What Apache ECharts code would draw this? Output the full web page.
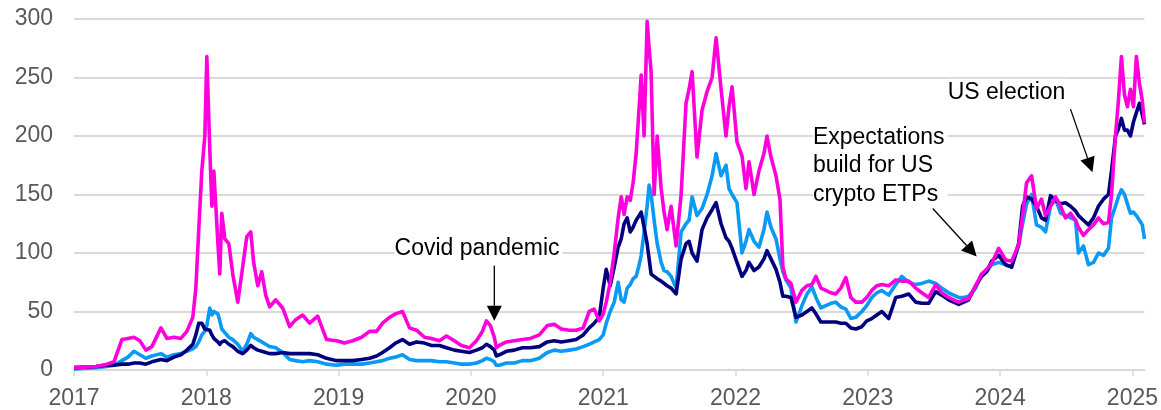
<!DOCTYPE html>
<html>
<head>
<meta charset="utf-8">
<script src="https://cdn.jsdelivr.net/npm/echarts@6/dist/echarts.min.js"></script>
<style>
  html, body { margin: 0; padding: 0; background: #fff; }
  #crypto-chart { width: 1161px; height: 410px; }
</style>
</head>
<body>
<div id="crypto-chart"></div>
<script>
// x positions as decimal years (Jan 1 = whole number)
const years = [
  2017.000, 2017.166, 2017.249, 2017.302, 2017.362, 2017.408, 2017.453, 2017.498, 2017.543, 2017.589,
  2017.657, 2017.702, 2017.755, 2017.808, 2017.853, 2017.898, 2017.921, 2017.943, 2017.966, 2017.989,
  2018.004, 2018.026, 2018.042, 2018.057, 2018.087, 2018.102, 2018.117, 2018.140, 2018.170, 2018.200,
  2018.238, 2018.275, 2018.306, 2018.336, 2018.358, 2018.389, 2018.419, 2018.449, 2018.479, 2018.525,
  2018.577, 2018.630, 2018.675, 2018.728, 2018.781, 2018.842, 2018.909, 2018.985, 2019.045, 2019.106,
  2019.174, 2019.234, 2019.287, 2019.332, 2019.385, 2019.430, 2019.483, 2019.536, 2019.589, 2019.649,
  2019.702, 2019.762, 2019.815, 2019.875, 2019.928, 2019.989, 2020.042, 2020.087, 2020.117, 2020.147,
  2020.177, 2020.192, 2020.215, 2020.268, 2020.328, 2020.389, 2020.449, 2020.517, 2020.577, 2020.630,
  2020.683, 2020.743, 2020.796, 2020.849, 2020.894, 2020.932, 2020.970, 2021.000, 2021.023, 2021.053,
  2021.083, 2021.113, 2021.136, 2021.158, 2021.181, 2021.204, 2021.226, 2021.249, 2021.272, 2021.287,
  2021.309, 2021.332, 2021.347, 2021.362, 2021.385, 2021.408, 2021.438, 2021.460, 2021.483, 2021.513,
  2021.551, 2021.589, 2021.626, 2021.649, 2021.672, 2021.709, 2021.747, 2021.785, 2021.823, 2021.853,
  2021.891, 2021.928, 2021.951, 2021.974, 2022.011, 2022.049, 2022.079, 2022.102, 2022.140, 2022.177,
  2022.215, 2022.238, 2022.268, 2022.306, 2022.336, 2022.358, 2022.381, 2022.419, 2022.457, 2022.502,
  2022.540, 2022.577, 2022.608, 2022.645, 2022.683, 2022.721, 2022.758, 2022.796, 2022.834, 2022.872,
  2022.909, 2022.955, 2022.992, 2023.030, 2023.068, 2023.106, 2023.158, 2023.211, 2023.257, 2023.309,
  2023.362, 2023.408, 2023.460, 2023.513, 2023.558, 2023.611, 2023.649, 2023.687, 2023.725, 2023.762,
  2023.815, 2023.860, 2023.898, 2023.936, 2023.989, 2024.042, 2024.087, 2024.140, 2024.170, 2024.200,
  2024.238, 2024.275, 2024.313, 2024.343, 2024.381, 2024.419, 2024.457, 2024.494, 2024.532, 2024.570,
  2024.592, 2024.630, 2024.668, 2024.706, 2024.743, 2024.781, 2024.819, 2024.842, 2024.872, 2024.894,
  2024.917, 2024.940, 2024.962, 2024.985, 2025.008, 2025.030, 2025.053, 2025.075, 2025.091
];

// magenta series
const magentaVals = [
  2, 3, 5, 7, 26, 27, 28, 25, 17, 20,
  36, 27, 28, 27, 33, 45, 70, 120, 170, 200,
  268, 190, 140, 170, 110, 82, 134, 112, 108, 82,
  58, 88, 114, 118, 92, 72, 84, 64, 54, 60,
  53, 37, 43, 47, 40, 46, 26, 25, 23, 25,
  28, 33, 33, 40, 45, 48, 50, 36, 34, 28,
  27, 25, 29, 25, 21, 19, 25, 33, 42, 38,
  28, 19, 21, 24, 25, 26, 27, 30, 38, 39,
  35, 34, 34, 36, 50, 52, 42, 48, 58, 75,
  100, 130, 148, 133, 148, 145, 160, 185, 225, 252,
  200, 298, 275, 255, 150, 200, 155, 135, 120, 140,
  106, 150, 228, 240, 255, 182, 222, 238, 250, 284,
  240, 200, 225, 242, 195, 183, 155, 178, 150, 170,
  185, 200, 182, 166, 146, 88, 78, 74, 58, 68,
  72, 73, 80, 70, 68, 66, 65, 70, 79, 62,
  58, 58, 62, 68, 72, 73, 72, 77, 76, 76,
  70, 66, 62, 73, 66, 62, 60, 58, 60, 61,
  72, 82, 86, 91, 104, 94, 93, 107, 132, 160,
  166, 138, 146, 132, 140, 148, 140, 130, 134, 128,
  122, 115, 120, 124, 130, 125, 126, 150, 200, 230,
  268, 235, 225, 240, 225, 268, 245, 230, 211
];

// navy series
const navyVals = [
  2, 3, 4, 4, 5, 5, 6, 6, 5, 7,
  9, 8, 11, 13, 17, 22, 30, 40, 40, 35,
  36, 34, 30, 27, 24, 22, 24, 25, 22, 20,
  16, 14, 17, 21, 19, 17, 16, 15, 14, 14,
  15, 14, 14, 14, 14, 13, 10, 8, 8, 8,
  9, 10, 12, 15, 19, 23, 26, 22, 24, 23,
  21, 21, 19, 17, 16, 15, 17, 19, 22, 20,
  17, 12, 13, 16, 17, 19, 19, 20, 24, 25,
  24, 25, 26, 30, 36, 40, 45, 70, 86, 72,
  88, 105, 112, 125, 130, 118, 122, 128, 132, 135,
  122, 108, 95, 82, 80, 78, 76, 74, 72, 70,
  65, 95, 108, 110, 100, 93, 120, 130, 137, 143,
  125, 113, 110, 104, 92, 80, 85, 92, 85, 88,
  95, 102, 95, 86, 75, 63, 63, 62, 45, 47,
  50, 53, 48, 41, 41, 41, 41, 40, 40, 36,
  35, 37, 42, 44, 47, 50, 44, 62, 63, 65,
  58, 57, 57, 67, 64, 60, 58, 56, 58, 60,
  72, 80, 84, 93, 98, 90, 88, 108, 140, 148,
  146, 140, 130, 128, 149, 145, 142, 143, 140, 136,
  132, 128, 124, 130, 140, 146, 150, 170, 200, 206,
  215, 205, 205, 200, 212, 220, 228, 218, 210
];

// light blue series
const blueVals = [
  1, 2, 3, 4, 8, 11, 16, 13, 10, 12,
  14, 11, 13, 14, 16, 18, 20, 24, 30, 33,
  38, 53, 47, 50, 48, 42, 35, 32, 28, 26,
  22, 16, 22, 31, 28, 26, 24, 22, 20, 19,
  15, 9, 8, 7, 8, 7, 5, 4, 5, 5,
  5, 6, 7, 8, 10, 11, 13, 9, 8, 8,
  8, 7, 7, 6, 5, 5, 6, 8, 10, 9,
  7, 4, 4, 6, 6, 8, 8, 10, 15, 17,
  16, 17, 18, 20, 22, 24, 26, 30, 40, 50,
  58, 75, 60, 58, 70, 73, 78, 80, 90, 98,
  118, 140, 158, 150, 128, 108, 92, 85, 84, 80,
  70, 118, 125, 128, 148, 132, 138, 150, 166, 185,
  166, 175, 155, 150, 143, 100, 110, 120, 110, 105,
  120, 135, 122, 112, 95, 84, 77, 70, 41, 55,
  65, 71, 62, 53, 55, 57, 58, 54, 52, 44,
  45, 50, 55, 62, 66, 68, 64, 73, 80, 75,
  73, 74, 76, 74, 70, 66, 64, 62, 62, 63,
  70, 82, 84, 90, 92, 90, 88, 106, 125, 142,
  150, 124, 122, 118, 140, 146, 134, 132, 130, 128,
  100, 106, 90, 92, 100, 98, 104, 130, 140, 148,
  154, 150, 142, 134, 135, 132, 128, 124, 112
];

const yearTicks = [2017, 2018, 2019, 2020, 2021, 2022, 2023, 2024, 2025];

// annotations in data coordinates: [year, value]
const notes = [
  {text: 'Covid pandemic', at: [2019.423, 104], from: [2020.177, 89], to: [2020.177, 42]},
  {text: 'Expectations\nbuild for US\ncrypto ETPs', at: [2022.585, 199], from: [2023.491, 138], to: [2023.823, 97]},
  {text: 'US election', at: [2023.604, 237], from: [2024.532, 223], to: [2024.698, 169]},
];

const pair = (vals) => years.map((x, i) => [x, vals[i]]);

const chart = echarts.init(document.getElementById('crypto-chart'), null, {renderer: 'canvas'});

const fontFamily = '"Liberation Sans", Arial, sans-serif';

const lineSeries = (name, color, vals) => ({
  name: name,
  type: 'line',
  data: pair(vals),
  showSymbol: false,
  symbol: 'none',
  lineStyle: {color: color, width: 3.6, join: 'round'},
  itemStyle: {color: color},
});

chart.setOption({
  animation: false,
  backgroundColor: '#ffffff',
  grid: {left: 74, right: 15, top: 19, bottom: 38},
  xAxis: {
    type: 'value',
    min: 2017,
    max: 2025.091,
    splitLine: {show: false},
    axisLine: {show: true, lineStyle: {color: '#d9d9d9', width: 2}},
    axisTick: {show: true, customValues: yearTicks, length: 6, lineStyle: {color: '#d9d9d9', width: 1.5}},
    axisLabel: {
      customValues: yearTicks,
      formatter: (v) => String(Math.round(v)),
      color: '#595959',
      fontSize: 23,
      fontFamily: fontFamily,
      margin: 17,
    },
  },
  yAxis: {
    type: 'value',
    min: 0,
    max: 300,
    interval: 50,
    axisLine: {show: false},
    axisTick: {show: false},
    splitLine: {lineStyle: {color: '#d9d9d9', width: 2}},
    axisLabel: {color: '#595959', fontSize: 23, fontFamily: fontFamily, margin: 21},
  },
  series: [
    lineSeries('Blue', '#0a99f5', blueVals),
    lineSeries('Navy', '#00007f', navyVals),
    lineSeries('Magenta', '#ff00dc', magentaVals),
  ],
});

// arrows + labels, placed from data coords
const px = (p) => chart.convertToPixel({gridIndex: 0}, p);
const graphics = [];
notes.forEach((n) => {
  const t = px(n.at);
  const a = px(n.from);
  const b = px(n.to);
  const dx = b[0] - a[0], dy = b[1] - a[1];
  const len = Math.sqrt(dx * dx + dy * dy);
  const ux = dx / len, uy = dy / len;
  const head = 15, half = 7.5;
  const base = [b[0] - ux * head, b[1] - uy * head];
  graphics.push({
    type: 'text', z: 100, left: t[0], top: t[1] - 14,
    style: {
      text: n.text, font: '23px ' + fontFamily, fill: '#000000',
      lineHeight: 28.5, backgroundColor: '#ffffff', padding: [0, 3, 0, 0],
    },
  });
  graphics.push({
    type: 'line', z: 100,
    shape: {x1: a[0], y1: a[1], x2: base[0], y2: base[1]},
    style: {stroke: '#000000', lineWidth: 1.3},
  });
  graphics.push({
    type: 'polygon', z: 100,
    shape: {points: [b, [base[0] - uy * half, base[1] + ux * half], [base[0] + uy * half, base[1] - ux * half]]},
    style: {fill: '#000000'},
  });
});
chart.setOption({graphic: graphics});
</script>
</body>
</html>
